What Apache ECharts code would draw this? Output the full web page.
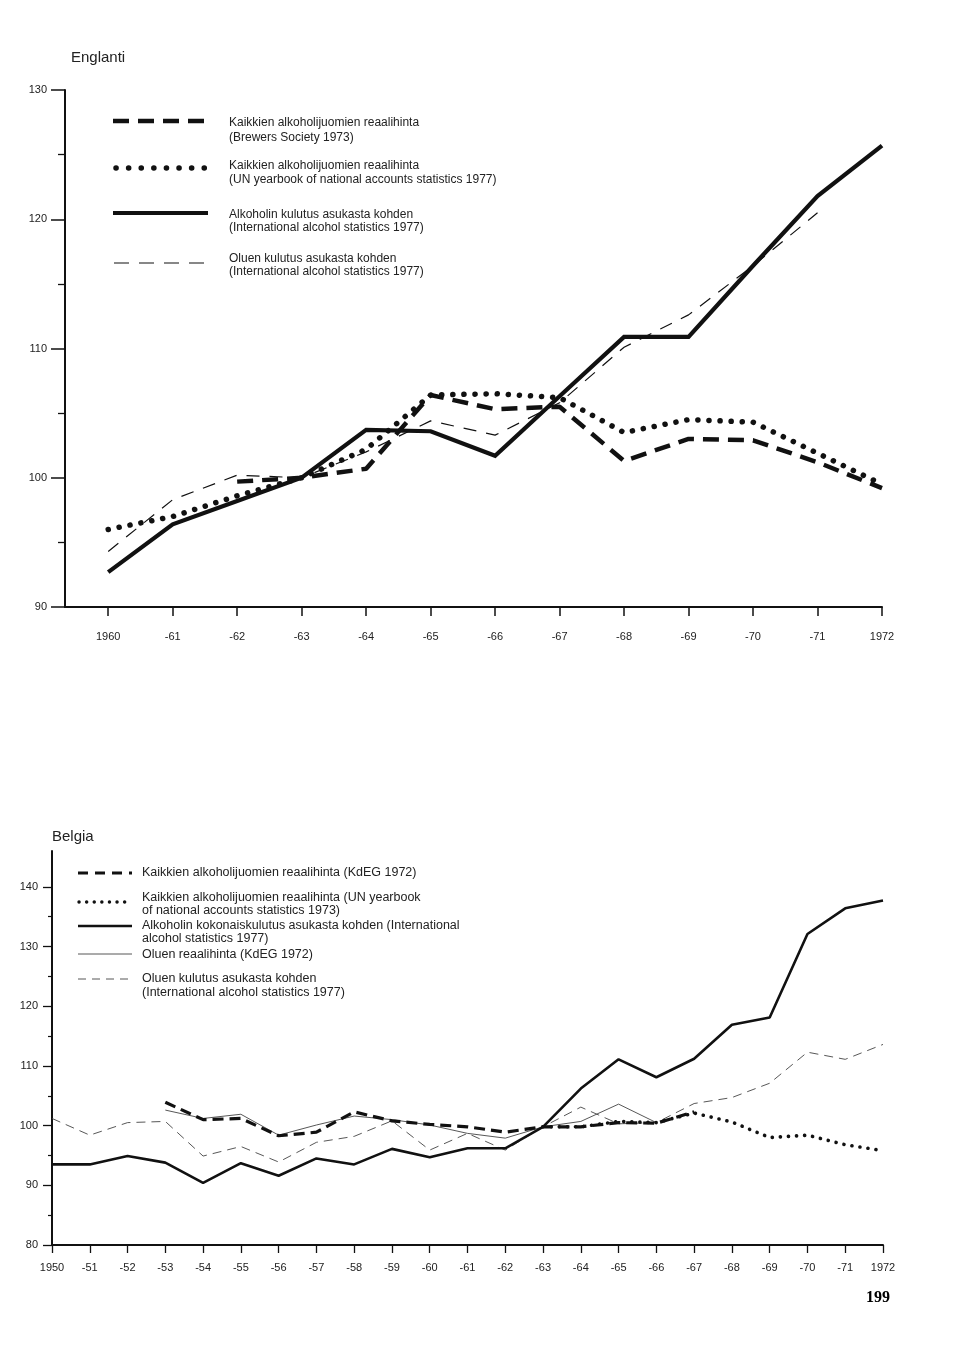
<!DOCTYPE html>
<html><head><meta charset="utf-8">
<script src="https://cdn.jsdelivr.net/npm/echarts@6/dist/echarts.min.js"></script>
<style>html,body{margin:0;padding:0;background:#fff}#c{width:960px;height:1360px}</style>
</head><body><div id="c"></div>
<script>
// ---------- Englanti (1960-1972) ----------
const engYears = [1960,1961,1962,1963,1964,1965,1966,1967,1968,1969,1970,1971,1972];
const engBrewers = [null,null,99.7,100.0,100.7,106.4,105.3,105.5,101.3,103.0,102.9,101.2,99.2];
const engUN      = [96.0,97.0,98.6,100.0,102.2,106.4,106.5,106.2,103.5,104.5,104.3,101.9,99.5];
const engAlcohol = [92.7,96.4,98.2,100.0,103.7,103.6,101.7,106.3,110.9,110.9,116.4,121.8,125.7];
const engBeer    = [94.3,98.3,100.2,100.0,102.0,104.4,103.3,105.8,110.1,112.6,116.4,120.5,null];
const engTickLabels = ['1960','-61','-62','-63','-64','-65','-66','-67','-68','-69','-70','-71','1972'];

// ---------- Belgia (1950-1972) ----------
const belYears = [1950,1951,1952,1953,1954,1955,1956,1957,1958,1959,1960,1961,1962,1963,1964,1965,1966,1967,1968,1969,1970,1971,1972];
const belKdEG     = [null,null,null,103.9,101.0,101.2,98.3,98.9,102.3,100.8,100.2,99.8,98.9,99.8,99.8,100.5,100.4,102.3,null,null,null,null,null];
const belUN       = [null,null,null,null,null,null,null,null,null,null,null,null,null,99.8,99.8,100.7,100.5,102.1,100.6,98.0,98.4,96.8,95.8];
const belAlcohol  = [93.5,93.5,94.9,93.8,90.4,93.7,91.6,94.5,93.5,96.1,94.7,96.2,96.2,99.8,106.2,111.1,108.1,111.2,116.9,118.1,132.1,136.4,137.7];
const belBeerPrice= [null,null,null,102.6,101.2,101.9,98.4,100.1,101.6,101.0,100.1,98.7,97.9,99.8,100.7,103.6,100.5,null,null,null,null,null,null];
const belBeerCons = [101.2,98.4,100.5,100.7,94.9,96.5,93.9,97.2,98.2,100.8,95.9,98.7,95.9,99.8,103.1,100.3,100.5,103.7,104.7,107.1,112.3,111.1,113.6];
const belTickLabels = ['1950','-51','-52','-53','-54','-55','-56','-57','-58','-59','-60','-61','-62','-63','-64','-65','-66','-67','-68','-69','-70','-71','1972'];
const belYTicks = [80,90,100,110,120,130,140];
const belYMinor = [85,95,105,115,125,135];

const F = "'Liberation Sans', Arial, Helvetica, sans-serif";
const INK = '#111';

function pairs(years, vals){
  const out = [];
  years.forEach((y,i)=>{ if (vals[i] != null) out.push([y, vals[i]]); });
  return out;
}
function line(name, years, vals, grid, style, z){
  return {
    name, type:'line', xAxisIndex:grid, yAxisIndex:grid === 0 ? 0 : 1,
    data: pairs(years, vals), symbol:'none', silent:true, z: z||2,
    lineStyle: Object.assign({color: INK}, style)
  };
}

const axisLineStyle = {show:true, lineStyle:{color:INK, width:2}};

const option = {
  backgroundColor:'#fff',
  animation:false,
  title:[
    {text:'Englanti', left:66, top:45, textStyle:{fontFamily:F, fontSize:15, fontWeight:'normal', color:'#222'}},
    {text:'Belgia', left:47, top:824, textStyle:{fontFamily:F, fontSize:15, fontWeight:'normal', color:'#222'}}
  ],
  grid:[
    {left:65, right:78, top:90, bottom:753, outerBoundsMode:'none', containLabel:false},
    {left:52, right:77, top:851, bottom:115, outerBoundsMode:'none', containLabel:false}
  ],
  xAxis:[
    {type:'value', gridIndex:0, min:1959.33, max:1972, splitLine:{show:false},
     axisLine:axisLineStyle,
     axisTick:{show:true, customValues:engYears, length:9, lineStyle:{color:INK, width:1.5}},
     axisLabel:{customValues:engYears, margin:24, fontFamily:F, fontSize:11, color:'#222',
       formatter:v=>engTickLabels[engYears.indexOf(Math.round(v))]}},
    {type:'value', gridIndex:1, min:1950, max:1972, splitLine:{show:false},
     axisLine:axisLineStyle,
     axisTick:{show:true, customValues:belYears, length:8, lineStyle:{color:INK, width:1.3}},
     axisLabel:{customValues:belYears, margin:17, fontFamily:F, fontSize:11, color:'#222',
       formatter:v=>belTickLabels[belYears.indexOf(Math.round(v))]}}
  ],
  yAxis:[
    {type:'value', gridIndex:0, position:'left', min:90, max:130, interval:10, splitLine:{show:false},
     axisLine:axisLineStyle,
     axisTick:{show:true, length:14, lineStyle:{color:INK, width:1.5}},
     minorTick:{show:true, splitNumber:2, length:7, lineStyle:{color:INK, width:1.3}},
     axisLabel:{margin:18, fontFamily:F, fontSize:11, color:'#222'}},
    {type:'value', gridIndex:1, position:'left', min:80, max:146, splitLine:{show:false},
     axisLine:axisLineStyle,
     axisTick:{show:true, customValues:belYTicks, length:9, lineStyle:{color:INK, width:1.3}},
     axisLabel:{customValues:belYTicks, margin:14, fontFamily:F, fontSize:11, color:'#222'}},
    {type:'value', gridIndex:1, position:'left', offset:0, min:80, max:146, splitLine:{show:false},
     axisLine:{show:false},
     axisTick:{show:true, customValues:belYMinor, length:4, lineStyle:{color:INK, width:1.2}},
     axisLabel:{show:false}}
  ],
  series:[
    line('Oluen kulutus (E)', engYears, engBeer, 0, {width:1.2, type:[13,10]}, 1),
    line('Brewers (E)', engYears, engBrewers, 0, {width:4.5, type:[16,9]}, 3),
    line('UN (E)', engYears, engUN, 0, {width:5.5, type:[0.1,11], cap:'round'}, 4),
    line('Alkoholin kulutus (E)', engYears, engAlcohol, 0, {width:4.2, join:'miter'}, 5),

    line('Oluen kulutus (B)', belYears, belBeerCons, 1, {width:0.9, color:'#444', type:[9,6]}, 1),
    line('Oluen reaalihinta (B)', belYears, belBeerPrice, 1, {width:0.9, color:'#444'}, 2),
    line('KdEG (B)', belYears, belKdEG, 1, {width:3.2, type:[11,6]}, 3),
    line('UN (B)', belYears, belUN, 1, {width:3.6, type:[0.1,8], cap:'round'}, 4),
    line('Alkoholin kokonaiskulutus (B)', belYears, belAlcohol, 1, {width:2.6}, 5)
  ],
  graphic:[]
};

// legend graphics
function gLine(x1,x2,y,style){
  option.graphic.push({type:'line', silent:true, shape:{x1,y1:y,x2,y2:y},
    style:Object.assign({stroke:INK}, style)});
}
function gText(x,y,t,size){
  option.graphic.push({type:'text', silent:true, x, y,
    style:{text:t, fill:'#222', font:(size||12)+'px '+F, verticalAlign:'middle', textVerticalAlign:'middle'}});
}
// Top legend
gLine(113,205,121,{lineWidth:4.5, lineDash:[16,9]});
gText(229,123,'Kaikkien alkoholijuomien reaalihinta');
gText(229,138,'(Brewers Society 1973)');
gLine(116,208,168,{lineWidth:5.5, lineDash:[0.1,12.5], lineCap:'round'});
gText(229,166,'Kaikkien alkoholijuomien reaalihinta');
gText(229,180,'(UN yearbook of national accounts statistics 1977)');
gLine(113,208,213,{lineWidth:4.2});
gText(229,215,'Alkoholin kulutus asukasta kohden');
gText(229,228,'(International alcohol statistics 1977)');
gLine(114,207,263,{lineWidth:1.2, lineDash:[15,10]});
gText(229,259,'Oluen kulutus asukasta kohden');
gText(229,272,'(International alcohol statistics 1977)');
// Bottom legend
gLine(78,132,873,{lineWidth:3, lineDash:[10,7]});
gText(142,873,'Kaikkien alkoholijuomien reaalihinta (KdEG 1972)',12.5);
gLine(79,132,902,{lineWidth:3.4, lineDash:[0.1,7.5], lineCap:'round'});
gText(142,898,'Kaikkien alkoholijuomien reaalihinta (UN yearbook',12.5);
gText(142,911,'of national accounts statistics 1973)',12.5);
gLine(78,132,926,{lineWidth:2.6});
gText(142,926,'Alkoholin kokonaiskulutus asukasta kohden (International',12.5);
gText(142,939,'alcohol statistics 1977)',12.5);
gLine(78,132,954,{lineWidth:0.9, stroke:'#444'});
gText(142,955,'Oluen reaalihinta (KdEG 1972)',12.5);
gLine(78,132,979,{lineWidth:0.9, stroke:'#444', lineDash:[8,6]});
gText(142,979,'Oluen kulutus asukasta kohden',12.5);
gText(142,993,'(International alcohol statistics 1977)',12.5);
// page number
option.graphic.push({type:'text', silent:true, x:866, y:1298,
  style:{text:'199', fill:'#000', font:"bold 16px 'Liberation Serif', 'DejaVu Serif', serif", verticalAlign:'middle', textVerticalAlign:'middle'}});

const chart = echarts.init(document.getElementById('c'), null, {renderer:'canvas'});
chart.setOption(option);
</script>
</body></html>
